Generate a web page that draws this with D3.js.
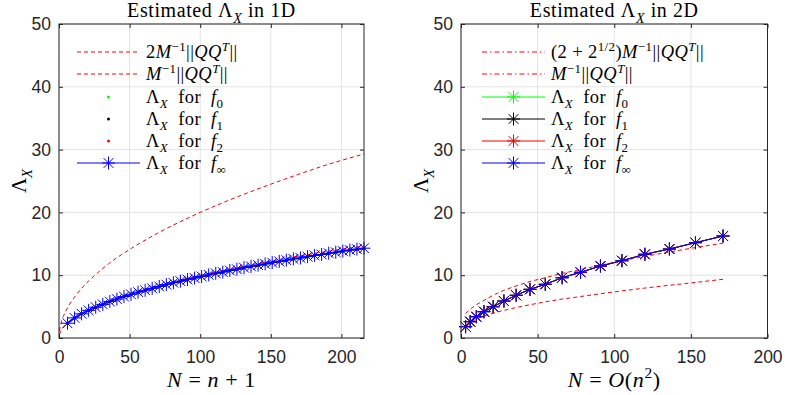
<!DOCTYPE html>
<html><head><meta charset="utf-8">
<script src="https://cdn.jsdelivr.net/npm/d3@7"></script>
<style>body{margin:0;background:#fff}svg{display:block}</style>
</head><body>
<svg id="c" width="785" height="395"></svg>
<script>
// ---------- data ----------
const xTicks = [0, 50, 100, 150, 200];
const yTicks = [0, 10, 20, 30, 40, 50];

// 1D
const n1D = [6,11,16,21,26,31,36,41,46,51,56,61,66,71,76,81,86,91,96,101,106,111,116,121,126,131,136,141,146,151,156,161,166,171,176,181,186,191,196,201,206,211,216];
const lam1D = [2.35,3.2,3.85,4.4,4.9,5.35,5.8,6.2,6.6,6.95,7.3,7.6,7.9,8.2,8.5,8.8,9.05,9.3,9.55,9.8,10.05,10.3,10.5,10.75,10.95,11.2,11.4,11.6,11.8,12.0,12.2,12.4,12.6,12.75,12.95,13.15,13.3,13.5,13.65,13.85,14.0,14.15,14.3];
const nBound1D = [0.3,1,3,6,11,16,25,35,50,70,100,130,160,190,216];
const upper1D = [1.1,2.0,3.4,4.8,6.5,7.9,9.9,11.8,14.1,16.7,20.0,22.8,25.3,27.6,29.3];
const lower1D = [0.55,1.0,1.7,2.4,3.25,3.95,4.95,5.9,7.05,8.35,10.0,11.4,12.65,13.8,14.65];

// 2D
const n2D = [3,6,10,15,21,28,36,45,55,66,78,91,105,120,136,153,171];
const lam2D = [1.8,2.6,3.39,4.19,4.98,5.89,6.8,7.75,8.55,9.6,10.46,11.46,12.31,13.33,14.17,15.18,16.24];
const upper2D = [3.9,4.6,5.3,6.0,6.8,7.6,8.3,9.0,9.6,10.3,10.9,11.6,12.3,13.0,13.7,14.4,15.1];
const lower2D = [2.0,2.5,3.0,3.5,3.95,4.4,4.85,5.3,5.75,6.2,6.6,7.05,7.5,7.95,8.4,8.85,9.35];

// ---------- helpers ----------
const svg = d3.select("#c");
const SERIF = "'Liberation Serif','DejaVu Serif',serif";
const SANS = "'Liberation Sans',Arial,sans-serif";

// parts: [text, italic, pos] pos: 0 normal, 1 sup, -1 sub
function rich(sel, parts, size) {
  let cur = 0;
  parts.forEach(([t, it, pos]) => {
    const off = pos === 1 ? -0.4 * size : pos === -1 ? 0.28 * size : 0;
    sel.append("tspan").text(t)
      .attr("dy", off - cur)
      .style("font-style", it ? "italic" : "normal")
      .style("font-size", (pos ? size * 0.7 : size) + "px");
    cur = off;
  });
}

function asterisk(g, cx, cy, color, r) {
  const d = r * 0.75;
  g.append("path")
    .attr("d", `M${cx-r},${cy}H${cx+r}M${cx},${cy-r}V${cy+r}M${cx-d},${cy-d}L${cx+d},${cy+d}M${cx-d},${cy+d}L${cx+d},${cy-d}`)
    .attr("stroke", color).attr("stroke-width", 1).attr("fill", "none");
}

function panel(opt) {
  const x = d3.scaleLinear().domain(opt.xDom).range(opt.xRange);
  const y = d3.scaleLinear().domain([0, 50]).range([338, 24]);
  const g = svg.append("g");
  const [x0, x1] = opt.xRange, y0 = 338, y1 = 24;

  // grid
  g.selectAll(".gx").data(xTicks).join("line")
    .attr("x1", d => x(d)).attr("x2", d => x(d)).attr("y1", y0).attr("y2", y1)
    .attr("stroke", "#e3e3e3").attr("stroke-width", 1);
  g.selectAll(".gy").data(yTicks).join("line")
    .attr("y1", d => y(d)).attr("y2", d => y(d)).attr("x1", x0).attr("x2", x1)
    .attr("stroke", "#e3e3e3").attr("stroke-width", 1);

  const style = a => {
    a.select(".domain").remove();
    a.selectAll("line").attr("stroke", "#262626");
    a.selectAll("text").style("font-family", SANS).style("font-size", "17.5px").attr("fill", "#262626");
  };
  g.append("g").attr("transform", `translate(0,${y0})`)
    .call(d3.axisBottom(x).tickValues(xTicks).tickSize(-4).tickPadding(13).tickFormat(d3.format("d"))).call(style);
  g.append("g").attr("transform", `translate(0,${y1})`)
    .call(d3.axisTop(x).tickValues(xTicks).tickSize(-4).tickFormat("")).call(style);
  g.append("g").attr("transform", `translate(${x0},0)`)
    .call(d3.axisLeft(y).tickValues(yTicks).tickSize(-4).tickPadding(8).tickFormat(d3.format("d"))).call(style);
  g.append("g").attr("transform", `translate(${x1},0)`)
    .call(d3.axisRight(y).tickValues(yTicks).tickSize(-4).tickFormat("")).call(style);

  const line = d3.line().x(d => x(d[0])).y(d => y(d[1]));
  const curve = d3.line().x(d => x(d[0])).y(d => y(d[1])).curve(d3.curveMonotoneX);

  // bounds
  opt.bounds.forEach(b => {
    g.append("path").datum(d3.zip(b.n, b.v)).attr("d", b.smooth ? curve : line)
      .attr("fill", "none").attr("stroke", "#ff0000").attr("stroke-width", 1)
      .attr("stroke-dasharray", b.dash);
  });

  // series
  const pts = d3.zip(opt.n, opt.lam);
  opt.series.forEach(s => {
    if (s.line) g.append("path").datum(pts).attr("d", line)
      .attr("fill", "none").attr("stroke", s.color).attr("stroke-width", s.lw || 1);
    if (s.dot) g.selectAll(null).data(pts).join("circle")
      .attr("cx", d => x(d[0])).attr("cy", d => y(d[1])).attr("r", 1.5).attr("fill", s.color);
    if (s.star) pts.forEach(d => asterisk(g, x(d[0]), y(d[1]), s.color, 6.5));
  });

  // box
  g.append("rect").attr("x", x0).attr("y", y1).attr("width", x1 - x0).attr("height", y0 - y1)
    .attr("fill", "none").attr("stroke", "#262626").attr("stroke-width", 1);

  // title
  const cx = (x0 + x1) / 2;
  rich(g.append("text").attr("x", cx).attr("y", 17).attr("text-anchor", "middle")
    .style("font-family", SERIF).style("letter-spacing", "0.6px").attr("fill", "#000"), opt.title, 20);
  // x label
  rich(g.append("text").attr("x", cx).attr("y", 387).attr("text-anchor", "middle")
    .style("font-family", SERIF).style("letter-spacing", "0.6px").attr("fill", "#000"), opt.xlabel, 22);
  // y label
  rich(g.append("text").attr("transform", `translate(${x0 - 33},181) rotate(-90)`).attr("text-anchor", "middle")
    .style("font-family", SERIF).attr("fill", "#000"), [["Λ", false, 0], ["X", true, -1]], 21);

  // legend
  const rowsY = [52, 74, 97, 119, 141, 163];
  opt.legend.forEach((L, i) => {
    const ly = rowsY[i];
    const lx0 = opt.legX, lx1 = opt.legX + 63, mid = (lx0 + lx1) / 2;
    if (L.dash) g.append("line").attr("x1", lx0).attr("x2", lx1).attr("y1", ly).attr("y2", ly)
      .attr("stroke", "#ff0000").attr("stroke-width", 1).attr("stroke-dasharray", L.dash);
    if (L.line) g.append("line").attr("x1", lx0).attr("x2", lx1).attr("y1", ly).attr("y2", ly)
      .attr("stroke", L.color).attr("stroke-width", 1);
    if (L.dot) g.append("circle").attr("cx", mid).attr("cy", ly).attr("r", 1.5).attr("fill", L.color);
    if (L.star) asterisk(g, mid, ly, L.color, 6.5);
    rich(g.append("text").attr("x", lx1 + 6).attr("y", ly + 6)
      .style("font-family", SERIF).style("letter-spacing", "0.4px").attr("fill", "#000"), L.text, 18.5);
  });
}

const normText = [["M", true, 0], ["−1", false, 1], ["||", false, 0], ["QQ", true, 0], ["T", true, 1], ["||", false, 0]];
const lamFor = k => [["Λ", false, 0], ["X", true, -1], ["\u00A0\u00A0for\u00A0\u00A0", false, 0], ["f", true, 0], [k, false, -1]];

panel({
  xDom: [0, 216], xRange: [59, 364], n: n1D, lam: lam1D,
  title: [["Estimated Λ", false, 0], ["X", true, -1], ["\u00A0in 1D", false, 0]],
  xlabel: [["N", true, 0], ["\u00A0=\u00A0", false, 0], ["n", true, 0], ["\u00A0+\u00A01", false, 0]],
  bounds: [
    { n: nBound1D, v: upper1D, dash: "4,3", smooth: true },
    { n: nBound1D, v: lower1D, dash: "4,3", smooth: true }
  ],
  series: [
    { color: "#00ff00", dot: true },
    { color: "#000000", dot: true },
    { color: "#ff0000", dot: true },
    { color: "#0000ff", line: true, star: true, lw: 1.5 }
  ],
  legX: 77,
  legend: [
    { dash: "4,3", text: [["2", false, 0]].concat(normText) },
    { dash: "4,3", text: normText },
    { dot: true, color: "#00ff00", text: lamFor("0") },
    { dot: true, color: "#000000", text: lamFor("1") },
    { dot: true, color: "#ff0000", text: lamFor("2") },
    { line: true, star: true, color: "#0000ff", text: lamFor("∞") }
  ]
});

panel({
  xDom: [0, 200], xRange: [461, 767.5], n: n2D, lam: lam2D,
  title: [["Estimated Λ", false, 0], ["X", true, -1], ["\u00A0in 2D", false, 0]],
  xlabel: [["N", true, 0], ["\u00A0=\u00A0", false, 0], ["O", true, 0], ["(", false, 0], ["n", true, 0], ["2", false, 1], [")", false, 0]],
  bounds: [
    { n: n2D, v: upper2D, dash: "4,3" },
    { n: n2D, v: lower2D, dash: "4,3" }
  ],
  series: [
    { color: "#00ff00", line: true, star: true },
    { color: "#000000", line: true, star: true },
    { color: "#ff0000", line: true, star: true },
    { color: "#0000ff", line: true, star: true }
  ],
  legX: 482,
  legend: [
    { dash: "5,3,1.5,3", text: [["(2\u00A0+\u00A02", false, 0], ["1/2", false, 1], [")", false, 0]].concat(normText) },
    { dash: "5,3,1.5,3", text: normText },
    { line: true, star: true, color: "#00ff00", text: lamFor("0") },
    { line: true, star: true, color: "#000000", text: lamFor("1") },
    { line: true, star: true, color: "#ff0000", text: lamFor("2") },
    { line: true, star: true, color: "#0000ff", text: lamFor("∞") }
  ]
});
</script>
</body></html>
